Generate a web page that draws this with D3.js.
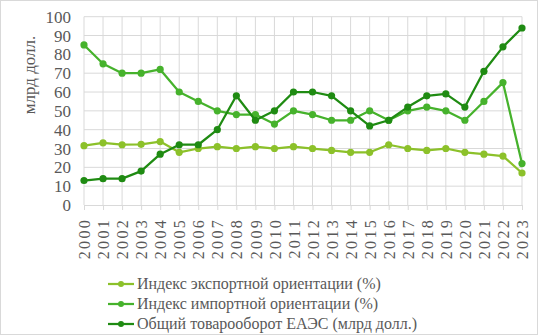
<!DOCTYPE html>
<html>
<head>
<meta charset="utf-8">
<script src="https://cdn.jsdelivr.net/npm/d3@7"></script>
<style>
  html, body { margin: 0; padding: 0; background: #fff; }
  svg { display: block; }
</style>
</head>
<body>
<svg id="chart" width="538" height="335"></svg>
<script>
// Years on the category axis
const years = [2000, 2001, 2002, 2003, 2004, 2005, 2006, 2007, 2008, 2009, 2010, 2011,
               2012, 2013, 2014, 2015, 2016, 2017, 2018, 2019, 2020, 2021, 2022, 2023];

// Export orientation index, %
const exportIndex = [31.5, 33, 32, 32.2, 33.7, 28, 30, 31, 30, 31, 30, 31,
                     30, 29, 28, 28, 32, 30, 29, 30, 28, 27, 26, 17];

// Import orientation index, %
const importIndex = [85, 75, 70, 70, 72, 60, 55, 50, 48, 48, 43, 50,
                     48, 45, 45, 50, 45, 50, 52, 50, 45, 55, 65, 22];

// Total EAEU trade turnover, bn USD
const turnover = [13, 14, 14, 18, 27, 32, 32, 40, 58, 45, 50, 60,
                  60, 58, 50, 42, 45, 52, 58, 59, 52, 71, 84, 94];

const yTicks = [0, 10, 20, 30, 40, 50, 60, 70, 80, 90, 100];

const seriesNames = [
  "Индекс экспортной ориентации (%)",
  "Индекс импортной ориентации (%)",
  "Общий товарооборот ЕАЭС (млрд долл.)"
];
const seriesColors = ["#8cc12a", "#46b22c", "#1f8b12"];
const seriesValues = [exportIndex, importIndex, turnover];

const FONT = "Liberation Serif";
const TEXT_COLOR = "#595959";

const W = 538, H = 335;
const svg = d3.select("#chart");

// outer frame
svg.append("rect")
  .attr("x", 0.5).attr("y", 0.5)
  .attr("width", W - 1).attr("height", H - 1)
  .attr("fill", "#fff").attr("stroke", "#d9d9d9");

const plot = { left: 84, right: 522, top: 16.7, bottom: 205 };

const x = d3.scalePoint().domain(years).range([plot.left, plot.right]);
const y = d3.scaleLinear().domain([0, 100]).range([plot.bottom, plot.top]);

// gridlines
const grid = svg.append("g");
grid.selectAll("line.h").data(yTicks.filter(d => d > 0)).join("line")
  .attr("x1", plot.left).attr("x2", plot.right)
  .attr("y1", d => y(d)).attr("y2", d => y(d))
  .attr("stroke", "#d9d9d9").attr("stroke-width", 1);
grid.selectAll("line.v").data(years).join("line")
  .attr("x1", d => x(d)).attr("x2", d => x(d))
  .attr("y1", plot.top).attr("y2", plot.bottom)
  .attr("stroke", "#d9d9d9").attr("stroke-width", 1);

// y axis labels
const yAxis = d3.axisLeft(y).tickValues(yTicks).tickSize(0).tickPadding(13);
const gy = svg.append("g").attr("transform", `translate(${plot.left},0)`).call(yAxis)
  .attr("font-family", FONT);
gy.select(".domain").remove();
gy.selectAll("text")
  .attr("font-family", FONT)
  .attr("font-size", 17)
  .attr("fill", TEXT_COLOR)
  .attr("dy", "0.33em");

// x axis with tick marks and rotated year labels
const xAxis = d3.axisBottom(x).tickSize(5).tickPadding(6);
const gx = svg.append("g").attr("transform", `translate(0,${plot.bottom})`).call(xAxis)
  .attr("font-family", FONT);
gx.select(".domain").attr("stroke", "#d9d9d9");
gx.selectAll(".tick line").attr("stroke", "#d9d9d9");
gx.selectAll("text")
  .attr("font-family", FONT)
  .attr("font-size", 16)
  .attr("letter-spacing", 2.3)
  .attr("fill", TEXT_COLOR)
  .attr("text-anchor", "end")
  .attr("transform", "rotate(-90)")
  .attr("x", -13)
  .attr("y", 0)
  .attr("dy", "0.35em");

// y axis title
svg.append("text")
  .attr("transform", "translate(29,75) rotate(-90)")
  .attr("text-anchor", "middle")
  .attr("dy", "0.35em")
  .attr("font-family", FONT)
  .attr("font-size", 17)
  .attr("fill", TEXT_COLOR)
  .text("млрд долл.");

// series lines and markers
const line = d3.line().x((d, i) => x(years[i])).y(d => y(d));
seriesValues.forEach((vals, k) => {
  const g = svg.append("g");
  g.append("path")
    .datum(vals)
    .attr("d", line)
    .attr("fill", "none")
    .attr("stroke", seriesColors[k])
    .attr("stroke-width", 2.25)
    .attr("stroke-linejoin", "round");
  g.selectAll("circle").data(vals).join("circle")
    .attr("cx", (d, i) => x(years[i]))
    .attr("cy", d => y(d))
    .attr("r", 3.6)
    .attr("fill", seriesColors[k]);
});

// legend
const legend = svg.append("g");
const legendRows = [284, 304, 324];
seriesNames.forEach((name, k) => {
  const row = legend.append("g").attr("transform", `translate(0,${legendRows[k]})`);
  row.append("line")
    .attr("x1", 108).attr("x2", 134).attr("y1", 0).attr("y2", 0)
    .attr("stroke", seriesColors[k]).attr("stroke-width", 2.25);
  row.append("circle").attr("cx", 121).attr("cy", 0).attr("r", 3).attr("fill", seriesColors[k]);
  row.append("text")
    .attr("x", 137).attr("y", 0).attr("dy", "0.33em")
    .attr("font-family", FONT)
    .attr("font-size", 16)
    .attr("fill", TEXT_COLOR)
    .text(name);
});
</script>
</body>
</html>
